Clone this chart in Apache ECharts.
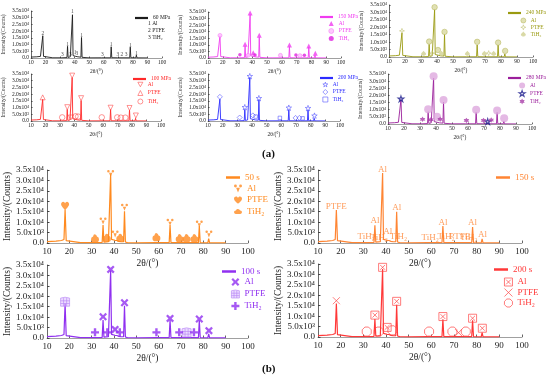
<!DOCTYPE html>
<html><head><meta charset="utf-8">
<script src="https://cdn.jsdelivr.net/npm/echarts@6/dist/echarts.min.js"></script>
<style>html,body{margin:0;padding:0;background:#fff}#c{width:550px;height:385px}</style>
</head><body><div id="c"></div>
<script>
// ---------- data ----------
const twoTheta = [10,14,16.5,17.6,18.1,18.6,19.3,25, 31.2,31.7,32.2, 34.7,35.1,35.5, 36.5,37.0,37.5, 38.1,38.5,38.9, 39.6,40.4,40.8,41.3, 42.2,42.6,43.2, 44.3,44.7,45.1, 46,50, 58.6,59.0,59.4, 64.7,65.1,65.5, 69.3,69.7,70.1, 77.8,78.2,78.6, 82.0,82.4,82.8, 90];
const xTickLabels = ['10','20','30','40','50','60','70','80','90','100'];
const yTickLabels = ['0.0','5.0x10³','1.0x10⁴','1.5x10⁴','2.0x10⁴','2.5x10⁴','3.0x10⁴','3.5x10⁴'];

const int60MPa  = [700,900,1200,1700,16600,1200,200,150, 150,500,150, 300,8700,400, 500,900,600, 1500,32200,1800, 900,1300,2200,1300, 900,1100,600, 600,15300,500, 200,100, 150,700,150, 150,8400,200, 150,500,150, 150,8100,200, 100,2100,100, 50];
const int150MPa = [600,800,1100,1600,16800,1100,200,150, 150,450,150, 300,9000,400, 500,800,600, 1500,33000,1700, 900,1300,2000,1200, 800,1000,600, 600,15800,500, 200,100, 150,600,150, 150,8600,200, 150,450,150, 150,8200,200, 100,2100,100, 50];
const int240MPa = [700,900,1200,1700,16200,1100,200,150, 150,450,150, 300,8500,400, 500,800,600, 1500,32000,1700, 900,1300,2100,1200, 800,1000,600, 600,15200,500, 200,100, 150,600,150, 150,8100,200, 150,450,150, 150,8000,200, 100,2000,100, 50];
const int100MPa = [700,900,1200,1700,16200,1100,200,150, 150,450,150, 300,8600,400, 500,800,600, 1500,32300,1700, 900,1300,2100,1200, 800,1000,600, 600,15200,500, 200,100, 150,600,150, 150,8500,200, 150,450,150, 150,8100,200, 100,2000,100, 50];
const int200MPa = [700,900,1200,1700,16300,1100,200,150, 150,450,150, 300,8600,400, 500,800,600, 1500,32300,1700, 900,1300,2100,1200, 800,1000,600, 600,15800,500, 200,100, 150,600,150, 150,8300,200, 150,450,150, 150,8200,200, 100,2000,100, 50];
const int280MPa = [700,900,1200,1700,17000,1100,200,150, 150,450,150, 300,8600,400, 500,800,600, 1500,32200,1700, 900,1300,2100,1200, 800,1000,600, 600,15300,500, 200,100, 150,600,150, 150,8200,200, 150,450,150, 150,8100,200, 100,2000,100, 50];
const int50s    = [700,900,1200,1700,16200,1100,200,150, 150,450,150, 300,8600,400, 500,800,600, 1500,33000,1700, 900,1300,2100,1200, 800,1000,600, 600,15200,500, 200,100, 150,700,150, 150,8600,200, 150,450,150, 150,8100,200, 100,2100,100, 50];
const int150s   = [700,900,1200,1700,15800,1100,200,150, 150,450,150, 300,8500,400, 500,800,600, 1500,33500,1700, 900,1300,2000,1200, 800,1000,600, 600,15000,500, 200,100, 150,600,150, 150,8100,200, 150,450,150, 150,7600,200, 100,2000,100, 50];
const int100s   = [700,900,1200,1700,16500,1100,200,150, 150,450,150, 300,8600,400, 500,800,600, 1500,32300,1700, 900,1300,2100,1200, 800,1000,600, 600,15500,500, 200,100, 150,600,150, 150,8600,200, 150,450,150, 150,8500,200, 100,2000,100, 50];
const int200s   = [700,900,1200,1700,16100,1100,200,150, 150,450,150, 300,8600,400, 500,800,600, 1500,32600,1700, 900,1300,2100,1200, 800,1000,600, 600,15500,500, 200,100, 150,600,150, 150,8500,200, 150,450,150, 150,8000,200, 100,2100,100, 50];

// phase marker positions [2theta, intensity]
const al60 = [[35.1,10000],[38.5,34300],[40.4,3700],[44.7,16700],[65.1,9700],[78.2,9300],[82.4,3300]];
const ptfe60 = [[18.1,17900],[72.5,2300]];
const tih60 = [[31.5,2300],[37,2300],[41.6,3300],[59,2300],[69.7,2300],[75.3,2300]];

const al150MPa = [[35.1,10400],[38.5,34300],[40.6,4000],[44.7,17300],[65.1,9900],[78.2,9200],[82.6,3700]];
const ptfe150MPa = [[18.1,17200],[37.2,2000],[59,2000],[72.2,1800]];
const tih150MPa = [[31.6,2400],[41.8,2300],[69.5,2300],[75.2,2000]];

const al240MPa = [[35.1,10400],[38.5,33500],[40.6,4700],[44.7,16900],[65.1,10200],[78.2,9700],[82.6,4100]];
const ptfe240MPa = [[18.1,17600],[37,2600],[72.3,2600]];
const tih240MPa = [[31.6,2600],[42.8,2600],[59,2600],[69.6,2600],[75.4,2600]];

const al100MPa = [[35.1,10300],[37.6,2600],[38.5,33800],[44.7,17000],[65.1,9900],[78.2,9700],[82.6,4100]];
const ptfe100MPa = [[18.1,17600]];
const tih100MPa = [[31.6,2700],[40.8,3500],[42.6,3300],[59,2700],[69.7,2700],[72.2,2500],[75.3,2500]];

const al200MPa = [[35.1,10300],[38.5,33400],[44.7,17000],[65.1,9900],[78.2,9600],[82.6,4000]];
const ptfe200MPa = [[18.1,18000],[31.6,2600],[40.6,4200],[69.7,2300],[72.3,2300]];
const tih200MPa = [[42.5,3300],[59,2300],[74.5,2000]];

const al280MPa = [[35.1,10400],[38.5,33500],[40.6,5000],[44.7,16800],[65.1,10000],[78.2,9500],[82.6,4000]];
const ptfe280MPa = [[18.1,17600],[72.3,1700]];
const tih280MPa = [[31.6,3300],[36.8,3000],[42.6,3300],[59,2500],[69.7,2500],[74.5,2800]];

const al50s = [[35.1,10500],[38.5,33300],[40.5,4300],[44.7,17100],[65.1,9900],[78.2,9100],[82.5,4300]];
const ptfe50s = [[18.1,17900]];
const tih50s = [[31.5,2200],[36.8,2500],[42.8,2500],[59,2800],[69.4,2300],[72.5,2300],[76,2300]];

const al150s = [[35.1,10700],[38.5,35000],[40.8,5300],[44.7,16800],[65.1,9600],[78.2,9600],[82.6,3800]];
const ptfe150s = [[18.1,17400],[72.5,2900]];
const tih150s = [[31.3,2900],[37,2700],[45.5,2900],[59.5,2700],[66.5,2900],[76.5,2700]];

const al100s = [[35.1,10200],[38.5,32900],[40.5,4100],[44.7,16900],[65.1,9400],[78.2,9100],[82.5,3500]];
const ptfe100s = [[18.1,17400],[72.5,2700]];
const tih100s = [[31.5,2700],[37,2700],[42.6,2700],[59,2700],[69.2,2700],[75.8,2700]];

const al200s = [[35.1,10500],[38.5,33400],[40.5,4600],[44.7,17100],[65.1,9800],[78.2,9000],[82.5,4200]];
const ptfe200s = [[18.1,17400],[72,2100]];
const tih200s = [[31.5,2600],[36.8,2600],[42.8,3200],[59,2600],[69.3,2600],[75.2,2600]];

// ---------- symbols ----------
const SYM = {
  triDown: 'path://M0,0 L10,0 L5,9 Z',
  star5: 'path://M5,0 L6.2,3.6 L10,3.6 L6.9,5.9 L8.1,9.5 L5,7.3 L1.9,9.5 L3.1,5.9 L0,3.6 L3.8,3.6 Z',
  star4: 'path://M5,0 L6.2,3.8 L10,5 L6.2,6.2 L5,10 L3.8,6.2 L0,5 L3.8,3.8 Z',
  star6: 'path://M5,0 L6.4,2.6 L9.3,2.5 L7.9,5 L9.3,7.5 L6.4,7.4 L5,10 L3.6,7.4 L0.7,7.5 L2.1,5 L0.7,2.5 L3.6,2.6 Z',
  spade: 'path://M5,0 C7,3 10,4 10,6.5 C10,8 8.5,9 7,8.5 L7.5,10 L2.5,10 L3,8.5 C1.5,9 0,8 0,6.5 C0,4 3,3 5,0 Z',
  heart: 'path://M5,9 C5,9 0,5.5 0,2.8 C0,1 1.3,0 2.6,0 C3.8,0 4.6,0.8 5,1.8 C5.4,0.8 6.2,0 7.4,0 C8.7,0 10,1 10,2.8 C10,5.5 5,9 5,9 Z',
  tulip: 'path://M1.8,0 A1.8,1.8 0 1,0 1.8,3.6 A1.8,1.8 0 1,0 1.8,0 Z M8.2,0 A1.8,1.8 0 1,0 8.2,3.6 A1.8,1.8 0 1,0 8.2,0 Z M2.6,4 L7.4,4 L5,10 Z',
  cloud: 'path://M1.5,9 A2.6,2.6 0 0,1 2,3.8 A3.2,3.2 0 0,1 8,3.8 A2.6,2.6 0 0,1 8.5,9 Z',
  thickX: 'path://M0,2 L2,0 L5,3 L8,0 L10,2 L7,5 L10,8 L8,10 L5,7 L2,10 L0,8 L3,5 Z',
  gridBox: 'path://M0,1 Q5,-1 10,1 L10,10 L0,10 Z M0,4 L10,4 M0,7 L10,7 M3.3,1 L3.3,10 M6.7,1 L6.7,10',
  plus: 'path://M3.5,0 L6.5,0 L6.5,3.5 L10,3.5 L10,6.5 L6.5,6.5 L6.5,10 L3.5,10 L3.5,6.5 L0,6.5 L0,3.5 L3.5,3.5 Z',
  boxX: 'path://M0,0 L10,0 L10,10 L0,10 Z M2,2 L8,8 M8,2 L2,8',
  cross: 'path://M0,0 L10,10 M10,0 L0,10',
  octa: 'path://M3,0 L7,0 L10,3 L10,7 L7,10 L3,10 L0,7 L0,3 Z'
};
const NONE = 'rgba(0,0,0,0)';

// ---------- panels ----------
const panels = [
  {name:'60 MPa', kind:'a', color:'#1c1c1c', data:int60MPa, box:[30,11,132,47], line:[135,15], marks:[138,20.5,0.8],
   sets:[{name:'1 Al', data:al60, text:'1'},{name:'2 PTFE', data:ptfe60, text:'2'},{name:'3 TiH₂', data:tih60, text:'3'}]},
  {name:'150 MPa', kind:'a', color:'#F03CF0', data:int150MPa, box:[208,12,133,46], line:[320,14], marks:[328.5,20.5,1.5],
   sets:[{name:'Al', data:al150MPa, symbol:'triangle', fill:'#F03CF0', size:5},
         {name:'PTFE', data:ptfe150MPa, symbol:'circle', fill:'#FFB8FF', stroke:'#F060F0', bw:0.5, size:4},
         {name:'TiH₂', data:tih150MPa, symbol:'circle', fill:'#E020E0', size:3.5}]},
  {name:'240 MPa', kind:'a', color:'#9A9A10', data:int240MPa, box:[389,5,144,52], line:[508,10], marks:[520.5,17.5,0.8],
   sets:[{name:'Al', data:al240MPa, symbol:'circle', fill:'#D8D8A0', stroke:'#B0B050', bw:0.6, size:5.5},
         {name:'PTFE', data:ptfe240MPa, symbol:SYM.star4, fill:NONE, stroke:'#C0C070', bw:0.7, size:5},
         {name:'TiH₂', data:tih240MPa, symbol:SYM.spade, fill:'#CFCF90', size:5}]},
  {name:'100 MPa', kind:'a', color:'#FF2A2A', data:int100MPa, box:[30,74,131,47], line:[133,76], marks:[137.5,81.5,2.5],
   sets:[{name:'Al', data:al100MPa, symbol:SYM.triDown, fill:NONE, stroke:'#FF4040', bw:0.7, size:5},
         {name:'PTFE', data:ptfe100MPa, symbol:'triangle', fill:NONE, stroke:'#FF4040', bw:0.7, size:5},
         {name:'TiH₂', data:tih100MPa, symbol:'circle', fill:NONE, stroke:'#FF4040', bw:0.7, size:5.5}]},
  {name:'200 MPa', kind:'a', color:'#2B2BFF', data:int200MPa, box:[208,74,132,47], line:[320,75], marks:[322.5,81.5,1.5],
   sets:[{name:'Al', data:al200MPa, symbol:SYM.star5, fill:NONE, stroke:'#4A4AFF', bw:0.7, size:5.5},
         {name:'PTFE', data:ptfe200MPa, symbol:'diamond', fill:NONE, stroke:'#4A4AFF', bw:0.7, size:5},
         {name:'TiH₂', data:tih200MPa, symbol:'rect', fill:NONE, stroke:'#4A4AFF', bw:0.7, size:3.5}]},
  {name:'280 MPa', kind:'a', color:'#9B1F9B', data:int280MPa, box:[388,74,144,50], line:[508,75], marks:[518.5,82.5,1.5], legSym:6,
   sets:[{name:'Al', data:al280MPa, symbol:'circle', fill:'#DDA8DD', size:8},
         {name:'PTFE', data:ptfe280MPa, symbol:SYM.star5, fill:NONE, stroke:'#1A1A8C', bw:1.2, size:5.5},
         {name:'TiH₂', data:tih280MPa, symbol:SYM.star6, fill:'#A83CA8', size:5.5}]},
  {name:'50 s', kind:'b', color:'#FF8A1F', data:int50s, box:[47,170,201,73], line:[226,173], marks:[234,184,2.5],
   sets:[{name:'Al', data:al50s, symbol:SYM.tulip, fill:'#FF8A1F', size:7},
         {name:'PTFE', data:ptfe50s, symbol:SYM.heart, fill:'#FF8A1F', size:8},
         {name:'TiH₂', data:tih50s, symbol:SYM.cloud, fill:'#FF8A1F', size:8}]},
  {name:'150 s', kind:'b', color:'#FF8533', data:int150s, box:[318,170,204,73], line:[496,173], marks:null,
   sets:[{name:'Al', data:al150s, text:'Al', noLegend:true},
         {name:'PTFE', data:ptfe150s, text:'PTFE', noLegend:true},
         {name:'TiH₂', data:tih150s, text:'TiH₂', noLegend:true}]},
  {name:'100 s', kind:'b', color:'#9030F0', data:int100s, box:[47,265,201,73], line:[222,267], marks:[231,277.5,3],
   sets:[{name:'Al', data:al100s, symbol:SYM.thickX, fill:'#9030F0', size:8},
         {name:'PTFE', data:ptfe100s, symbol:SYM.gridBox, fill:'rgba(215,180,255,0.6)', stroke:'#B888F5', bw:0.8, size:9},
         {name:'TiH₂', data:tih100s, symbol:SYM.plus, fill:'#9030F0', size:8}]},
  {name:'200 s', kind:'b', color:'#FF3838', data:int200s, box:[318,264,204,73], line:[494,265], marks:[504,277.5,1.5],
   sets:[{name:'Al', data:al200s, symbol:SYM.boxX, fill:NONE, stroke:'#FF4848', bw:0.9, size:8},
         {name:'PTFE', data:ptfe200s, symbol:SYM.cross, fill:NONE, stroke:'#FF4848', bw:0.9, size:7},
         {name:'TiH₂', data:tih200s, symbol:SYM.octa, fill:NONE, stroke:'#FF4848', bw:0.9, size:9}]}
];

const FONT = 'Liberation Serif';
const STY = {
  a: {tick:5.5, name:5.5, leg:5.5, lineW:0.9, sym:5, legLine:13, legLineH:2.2, xGap:11, yGap:24, txt:5.5},
  b: {tick:9, name:9.5, leg:9, lineW:1.2, sym:8, legLine:14, legLineH:2.5, xGap:15, yGap:35, txt:9}
};

const grids=[], xAxes=[], yAxes=[], series=[], legends=[];
const fmtName = n => n.split('#')[0];

panels.forEach((p,i)=>{
  const S = STY[p.kind];
  grids.push({left:p.box[0], top:p.box[1], width:p.box[2], height:p.box[3]});
  xAxes.push({type:'value', gridIndex:i, min:10, max:100, interval:10,
    name:'2θ/(°)', nameLocation:'middle', nameGap:S.xGap,
    nameTextStyle:{fontFamily:FONT, fontSize:S.name, color:'#222'},
    axisLine:{lineStyle:{color:'#888', width:0.8}},
    axisTick:{inside:true, length:p.kind==='a'?1.5:2.5, lineStyle:{color:'#666'}},
    axisLabel:{fontFamily:FONT, fontSize:S.tick, color:'#222', margin:p.kind==='a'?2:4,
      formatter:v=>xTickLabels[Math.round((v-10)/10)]},
    splitLine:{show:false}});
  yAxes.push({type:'value', gridIndex:i, min:0, max:35000, interval:5000,
    name:'Intensity/(Counts)', nameLocation:'middle', nameGap:S.yGap,
    nameTextStyle:{fontFamily:FONT, fontSize:S.name, color:'#222'},
    axisLine:{show:true, lineStyle:{color:'#444', width:0.8}},
    axisTick:{show:true, inside:true, length:p.kind==='a'?1.5:2.5, lineStyle:{color:'#444'}},
    axisLabel:{fontFamily:FONT, fontSize:S.tick, color:'#222', margin:p.kind==='a'?2:3,
      formatter:v=>yTickLabels[Math.round(v/5000)]},
    splitLine:{show:false}});
  const lname = p.name+'#'+i;
  series.push({type:'line', name:lname, xAxisIndex:i, yAxisIndex:i,
    data: twoTheta.map((t,k)=>[t, p.data[k]]),
    symbol:'none', showSymbol:false, lineStyle:{color:p.color, width:S.lineW}, itemStyle:{color:p.color},
    z:2, silent:true});
  legends.push({left:p.line[0], top:p.line[1], padding:0, itemWidth:S.legLine, itemHeight:S.legLineH,
    selectedMode:false, formatter:fmtName,
    textStyle:{fontFamily:FONT, fontSize:S.leg, color:p.color},
    data:[{name:lname, icon:'rect', itemStyle:{color:p.color, borderWidth:0}}]});
  const items=[];
  p.sets.forEach(s=>{
    const nm = s.name+'#'+i;
    if (s.text) {
      series.push({type:'scatter', name:nm, xAxisIndex:i, yAxisIndex:i, data:s.data,
        symbol:'circle', symbolSize:1, itemStyle:{color:NONE}, clip:false, z:5, silent:true,
        label:{show:true, position:'inside', formatter:s.text, color:p.color, fontFamily:FONT, fontSize:S.txt}});
      if (!s.noLegend) items.push({name:nm, icon:'none'});
    } else {
      const st = {color:s.fill, borderColor:s.stroke||s.fill, borderWidth:s.bw||0};
      series.push({type:'scatter', name:nm, xAxisIndex:i, yAxisIndex:i, data:s.data,
        symbol:s.symbol, symbolSize:s.size, itemStyle:st, z:5, silent:true});
      items.push({name:nm, icon:s.symbol, itemStyle:st});
    }
  });
  if (p.marks && items.length) {
    const ls = p.legSym || S.sym;
    legends.push({orient:'vertical', left:p.marks[0], top:p.marks[1], itemGap:p.marks[2], padding:0,
      itemWidth:ls, itemHeight:ls, selectedMode:false, formatter:fmtName,
      textStyle:{fontFamily:FONT, fontSize:S.leg, color:p.color}, data:items});
  }
});

const chart = echarts.init(document.getElementById('c'), null, {renderer:'canvas'});
chart.setOption({
  animation:false,
  backgroundColor:'#ffffff',
  grid:grids, xAxis:xAxes, yAxis:yAxes, series:series, legend:legends,
  graphic:[
    {type:'text', left:262, top:149, style:{text:'(a)', font:'bold 11px "Liberation Serif"', fill:'#111'}},
    {type:'text', left:262, top:364, style:{text:'(b)', font:'bold 11px "Liberation Serif"', fill:'#111'}}
  ]
});
</script>
</body></html>
